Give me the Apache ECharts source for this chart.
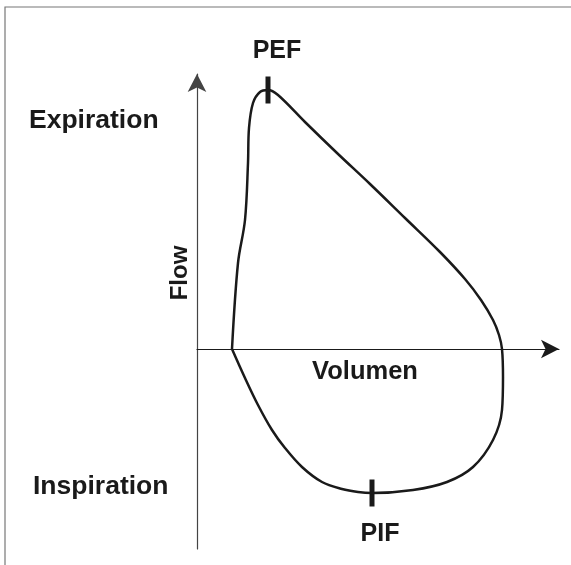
<!DOCTYPE html>
<html>
<head>
<meta charset="utf-8">
<script src="https://cdn.jsdelivr.net/npm/echarts@6/dist/echarts.min.js"></script>
<style>
  html, body { margin: 0; padding: 0; background: #fff; }
  #chart { width: 571px; height: 565px; }
</style>
</head>
<body>
<div id="chart"></div>
<script>
// Flow-volume loop (arbitrary units)
var volume = [0.70, 0.82, 0.96, 1.02, 1.04, 1.12, 1.26, 1.42, 1.62,
              2.16, 2.80, 3.46, 4.16, 4.86, 5.36, 5.68, 5.92, 6.04, 6.10,
              6.12, 6.10, 5.92, 5.52, 5.00, 4.32, 3.50, 3.22, 2.90, 2.50, 2.10,
              1.76, 1.50, 1.22, 0.96, 0.70];
var flow   = [0, 3.44, 5.16, 7.44, 8.84, 9.84, 10.28, 10.36, 10.16,
              9.08, 7.84, 6.60, 5.24, 3.88, 2.80, 1.96, 1.16, 0.56, 0,
              -1.12, -2.44, -3.64, -4.72, -5.32, -5.64, -5.76, -5.72, -5.60, -5.32, -4.72,
              -3.96, -3.24, -2.24, -1.16, 0];
// peak expiratory / inspiratory flow markers
var peakNames  = ['PEF', 'PIF'];
var peakVolume = [1.42, 3.50];
var peakFlow   = [10.36, -5.76];

var loop = volume.map(function (v, i) { return [v, flow[i]]; });
var peaks = peakVolume.map(function (v, i) { return [v, peakFlow[i]]; });

var font = '"Liberation Sans", Arial, sans-serif';
var txt = function (text, x, y, size, align, rot) {
    return {
        type: 'text', x: x, y: y, rotation: rot || 0,
        style: { text: text, fill: '#1a1a1a', font: 'bold ' + size + 'px ' + font,
                 align: align || 'center', verticalAlign: 'middle' }
    };
};

var myChart = echarts.init(document.getElementById('chart'));
var option = {
    animation: false,
    grid: { left: 197, right: 12, top: 74, bottom: 16 },
    xAxis: {
        type: 'value', min: 0, max: 7.24,
        axisLine: { show: true, onZero: true, symbol: ['none', 'arrow'], symbolSize: [14, 18],
                    lineStyle: { color: '#1a1a1a', width: 1.2 } },
        axisTick: { show: false }, axisLabel: { show: false }, splitLine: { show: false }
    },
    yAxis: {
        type: 'value', min: -8, max: 11,
        axisLine: { show: true, symbol: ['none', 'arrow'], symbolSize: [14, 18],
                    lineStyle: { color: '#444', width: 1.2 } },
        axisTick: { show: false }, axisLabel: { show: false }, splitLine: { show: false }
    },
    graphic: [
        { type: 'rect', shape: { x: 5, y: 7, width: 700, height: 700 },
          style: { fill: 'none', stroke: '#777', lineWidth: 1.2 }, z: -1 },
        txt('Expiration', 29, 121, 26.5, 'left'),
        txt('Inspiration', 33, 487, 26.5, 'left'),
        txt('Flow', 180, 273, 24, 'center', Math.PI / 2),
        txt('Volumen', 365, 372, 25.5),
        txt(peakNames[0], 277, 51, 25),
        txt(peakNames[1], 380, 534, 25)
    ],
    series: [
        {
            type: 'line',
            data: loop,
            smooth: 0.35,
            showSymbol: false,
            lineStyle: { color: '#1a1a1a', width: 2.5 }
        },
        {
            type: 'scatter',
            data: peaks,
            symbol: 'rect',
            symbolSize: [5, 27],
            itemStyle: { color: '#1a1a1a', opacity: 1 }
        }
    ]
};
myChart.setOption(option);
</script>
</body>
</html>
